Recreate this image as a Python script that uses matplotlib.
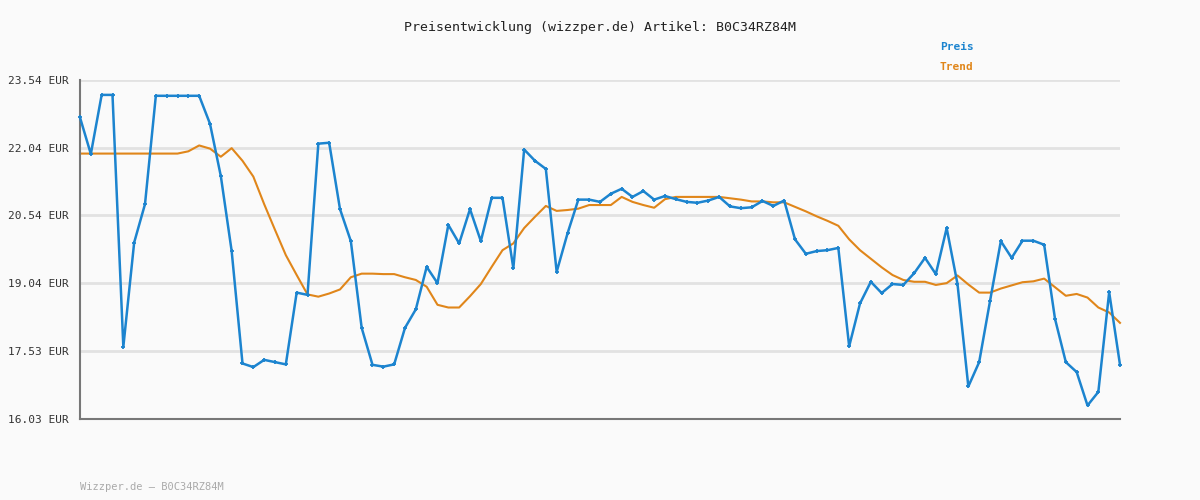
import matplotlib
matplotlib.use("Agg")
import matplotlib.pyplot as plt

preis = [22.71,21.90,23.21,23.21,17.63,19.94,20.79,23.19,23.19,23.19,23.19,23.19,22.57,21.41,19.75,17.26,17.18,17.34,17.29,17.24,
         18.83,18.78,22.13,22.15,20.68,19.97,18.05,17.23,17.19,17.24,18.05,18.46,19.40,19.04,20.33,19.92,20.68,19.97,20.93,20.93,
         19.37,22.00,21.75,21.57,19.29,20.14,20.89,20.89,20.84,21.02,21.13,20.95,21.08,20.89,20.97,20.90,20.84,20.82,20.87,20.95,
         20.74,20.70,20.72,20.86,20.75,20.87,20.01,19.69,19.75,19.77,19.82,17.64,18.59,19.07,18.82,19.02,19.00,19.26,19.60,19.24,
         20.26,19.02,16.75,17.29,18.64,19.97,19.60,19.98,19.98,19.89,18.25,17.29,17.07,16.33,16.63,18.84,17.23]
trend = [21.91,21.91,21.91,21.91,21.91,21.91,21.91,21.91,21.91,21.91,21.96,22.09,22.02,21.84,22.03,21.75,21.40,20.79,20.22,19.66,
         19.22,18.79,18.74,18.81,18.90,19.17,19.25,19.25,19.24,19.24,19.17,19.11,18.96,18.56,18.50,18.50,18.75,19.02,19.40,19.77,
         19.92,20.26,20.51,20.75,20.64,20.66,20.69,20.77,20.77,20.77,20.95,20.84,20.77,20.71,20.90,20.95,20.95,20.95,20.95,20.95,
         20.92,20.89,20.85,20.85,20.83,20.83,20.73,20.63,20.52,20.42,20.31,20.01,19.77,19.58,19.39,19.22,19.11,19.07,19.07,19.00,
         19.04,19.21,19.01,18.83,18.83,18.92,18.99,19.06,19.08,19.14,18.95,18.76,18.80,18.72,18.50,18.39,18.16]
yticks = [16.03, 17.53, 19.04, 20.54, 22.04, 23.54]
ylabels = ["16.03 EUR", "17.53 EUR", "19.04 EUR", "20.54 EUR", "22.04 EUR", "23.54 EUR"]
title = "Preisentwicklung (wizzper.de) Artikel: B0C34RZ84M"

mono = "DejaVu Sans Mono"
blue = "#1c84cf"
orange = "#e0861a"
fig = plt.figure(figsize=(12, 5), dpi=100, facecolor="#fafafa")
ax = fig.add_axes([80/1200, 81/500, 1040/1200, 339/500], facecolor="#fafafa")
x = list(range(len(preis)))
for t in yticks:
    ax.axhline(t, color="#e2e2e2", lw=2, zorder=0)
ax.plot(x, trend, color=orange, lw=1.5, zorder=2, clip_on=False)
ax.plot(x, preis, color=blue, lw=1.8, marker="+", ms=3.5, mew=1.3, zorder=3, clip_on=False)
ax.set_xlim(0, len(preis) - 1)
ax.set_ylim(16.03, 23.54)
ax.set_yticks(yticks)
ax.set_yticklabels(ylabels, fontfamily=mono, fontsize=8, color="#333333")
ax.set_xticks([])
ax.tick_params(axis="y", length=0, pad=8)
for s in ["top", "right"]:
    ax.spines[s].set_visible(False)
for s in ["left", "bottom"]:
    ax.spines[s].set_color("#777777")
    ax.spines[s].set_linewidth(1.5)
fig.text(0.5, 1 - 28/500, title, ha="center", va="center", fontfamily=mono, fontsize=9.5, color="#222222")
fig.text(940/1200, 1 - 47/500, "Preis", ha="left", va="center", fontfamily=mono, fontsize=8, fontweight="bold", color=blue)
fig.text(940/1200, 1 - 67/500, "Trend", ha="left", va="center", fontfamily=mono, fontsize=8, fontweight="bold", color=orange)
fig.text(80/1200, 1 - 487/500, "Wizzper.de – B0C34RZ84M", ha="left", va="center", fontfamily=mono, fontsize=7.5, color="#aaaaaa")
fig.savefig("out.png", dpi=100, facecolor=fig.get_facecolor())
